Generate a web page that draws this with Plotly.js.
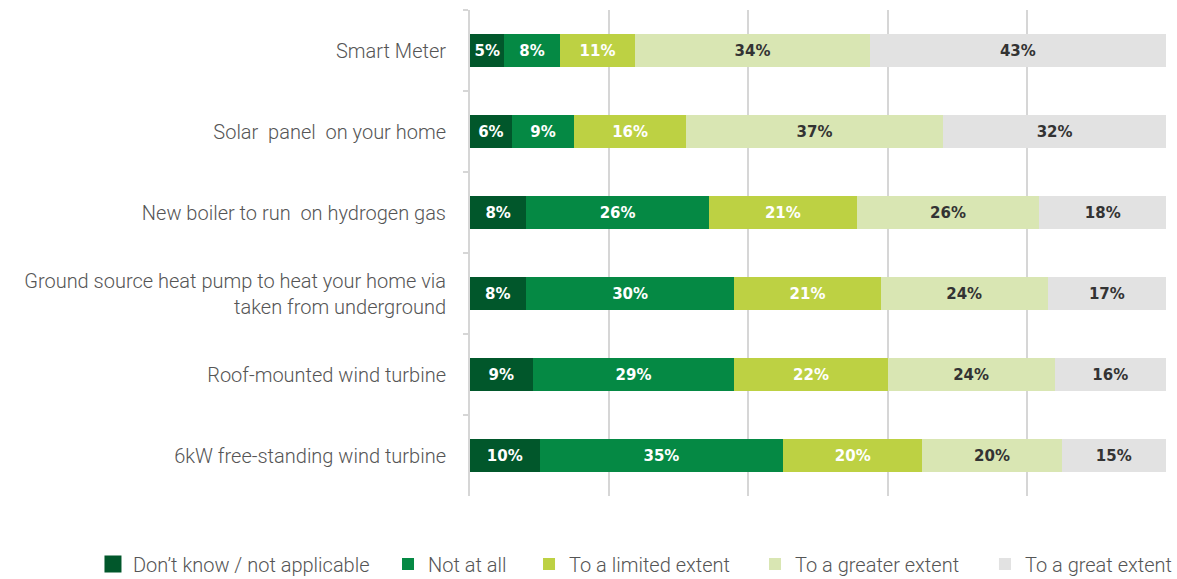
<!DOCTYPE html>
<html>
<head>
<meta charset="utf-8">
<script src="https://cdn.plot.ly/plotly-3.0.1.min.js"></script>
<style>
html,body{margin:0;padding:0;background:#fff;}
#chart{width:1177px;height:579px;}
#chart .legend .legendpoints path{ d: path("M8.5,8.5H-8.5V-8.5H8.5Z"); }
</style>
</head>
<body>
<div id="chart"></div>
<script>
const categories = [
  "Smart Meter",
  "Solar  panel  on your home",
  "New boiler to run  on hydrogen gas",
  "Ground source heat pump to heat your home via<br>taken from underground",
  "Roof-mounted wind turbine",
  "6kW free-standing wind turbine"
];
const seriesNames = ["Don\u2019t know / not applicable", "Not at all", "To a limited extent", "To a greater extent", "To a great extent"];
const dontKnow   = [5, 6, 8, 8, 9, 10];
const notAtAll   = [8, 9, 26, 30, 29, 35];
const limited    = [11, 16, 21, 21, 22, 20];
const greater    = [34, 37, 26, 24, 24, 20];
const great      = [43, 32, 18, 17, 16, 15];
const xTicks = [0, 20, 40, 60, 80, 100];

const colors = ["#01572b", "#058944", "#bdd143", "#d9e6b3", "#e2e2e2"];
const textColors = ["#ffffff", "#ffffff", "#ffffff", "#333333", "#333333"];
const seriesValues = [dontKnow, notAtAll, limited, greater, great];
const legendIds = ["legend", "legend2", "legend3", "legend4", "legend5"];
const legendX = [-0.5417, -0.1178, 0.0848, 0.4095, 0.7399];

const traces = seriesValues.map((vals, i) => ({
  type: "bar",
  orientation: "h",
  name: seriesNames[i],
  legend: legendIds[i],
  y: categories,
  x: vals,
  text: vals.map(v => v + "%"),
  texttemplate: "%{text}",
  textposition: "inside",
  insidetextanchor: "middle",
  textangle: 0,
  constraintext: "none",
  textfont: {family: "DejaVu Sans, sans-serif", size: 15, color: textColors[i], weight: "bold"},
  marker: {color: colors[i], line: {width: 0}},
  hoverinfo: "skip"
}));

const layout = {
  width: 1177, height: 579,
  margin: {l: 470, r: 11, t: 10, b: 83, autoexpand: false},
  barmode: "stack",
  barnorm: "percent",
  bargap: 0.59,
  paper_bgcolor: "#ffffff",
  plot_bgcolor: "#ffffff",
  uniformtext: {mode: "show", minsize: 15},
  font: {family: "Roboto, sans-serif", color: "#4d4d4d"},
  xaxis: {
    range: [0, 100],
    tickvals: xTicks,
    showticklabels: false,
    showgrid: true,
    gridcolor: "#d6d6d6",
    gridwidth: 2,
    zeroline: false,
    showline: false,
    fixedrange: true
  },
  yaxis: {
    autorange: "reversed",
    showline: true,
    linecolor: "#d6d6d6",
    linewidth: 2,
    ticks: "outside",
    tickson: "boundaries",
    ticklen: 5,
    tickcolor: "#d6d6d6",
    tickwidth: 2,
    ticklabelstandoff: 18,
    tickfont: {family: "Roboto, sans-serif", size: 20, color: "#555555", weight: 300},
    showgrid: false,
    zeroline: false,
    fixedrange: true
  },
  showlegend: true
};

legendIds.forEach((id, i) => {
  layout[id] = {
    orientation: "h",
    x: legendX[i], xanchor: "left",
    y: -0.14, yanchor: "middle",
    font: {family: "Roboto, sans-serif", size: 20, color: "#555555", weight: 300},
    itemwidth: 30,
    bgcolor: "rgba(0,0,0,0)"
  };
});

Plotly.newPlot("chart", traces, layout, {displayModeBar: false, staticPlot: true});
</script>
</body>
</html>
